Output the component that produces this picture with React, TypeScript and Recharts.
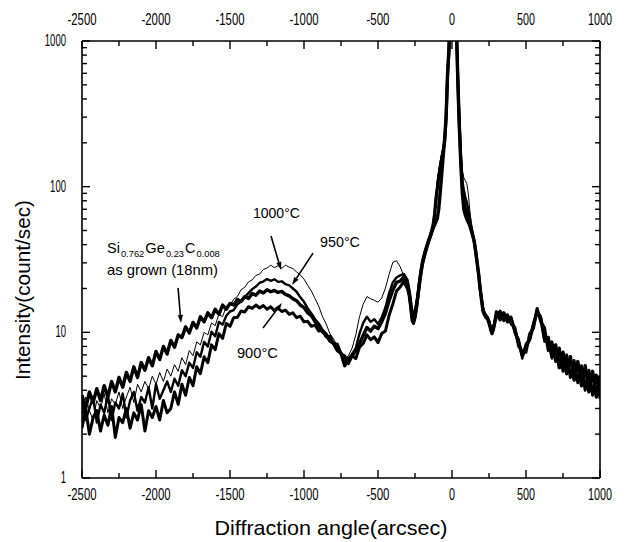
import React from "react";
import { LineChart, Line, XAxis, YAxis, ReferenceDot, ReferenceLine } from "recharts";

// Diffraction angle (arcsec)
const ANGLE = [
  -2500, -2475, -2450, -2425, -2400, -2375, -2350, -2325, -2300, -2275, -2250, -2225, -2200, -2175, -2150, -2125,
  -2100, -2075, -2050, -2025, -2000, -1975, -1950, -1925, -1900, -1875, -1850, -1825, -1800, -1775, -1750, -1725,
  -1700, -1675, -1650, -1625, -1600, -1575, -1550, -1525, -1500, -1475, -1450, -1425, -1400, -1375, -1350, -1325,
  -1300, -1275, -1250, -1225, -1200, -1175, -1150, -1125, -1100, -1075, -1050, -1025, -1000, -975, -950, -925,
  -900, -875, -850, -825, -800, -775, -750, -725, -700, -675, -650, -625, -600, -575, -550, -525, -500, -475,
  -450, -425, -400, -375, -350, -325, -300,
  -290, -280, -270, -260, -250, -240, -230, -220, -210, -200, -190, -180, -170, -160, -150, -140, -130, -120,
  -110, -100, -90, -80, -70, -60, -50, -40, -30, -20, -10, 0, 10, 20, 30, 40, 50, 60, 70, 80, 90, 100, 110, 120,
  130, 140, 150, 160, 170, 180, 190, 200, 210, 220, 230, 240, 250, 260, 270, 280, 290,
  300, 325, 350, 375, 400, 425, 450, 475, 500, 525, 550, 575, 600, 625, 650, 675, 700, 725, 750, 775, 800, 825,
  850, 875, 900, 925, 950, 975, 1000,
];

// Intensity (count/sec), as grown (18nm)
const AS_GROWN = [
  3.7, 3.0, 3.9, 3.3, 4.1, 3.4, 4.3, 3.6, 4.6, 3.9, 4.9, 4.2, 5.3, 4.6, 5.8, 4.9, 6.2, 5.5, 6.7, 5.9,
  7.4, 6.5, 8.0, 7.1, 8.8, 7.9, 9.6, 9.2, 10.9, 9.9, 11.7, 10.7, 12.8, 11.8, 13.6, 12.6, 14.4, 13.3, 15.4, 14.4,
  15.8, 15.4, 16.8, 16.3, 17.6, 17.1, 18.5, 18.0, 19.2, 18.6, 19.6, 19.0, 19.4, 18.8, 19.1, 18.2, 17.8, 17.0, 16.5, 15.4,
  14.8, 13.6, 13.0, 11.8, 11.2, 10.1, 9.6, 8.7, 8.4, 7.5, 7.2, 5.9, 6.6, 6.9, 7.5, 8.4, 9.5, 10.8, 10.2, 11.0,
  10.6, 11.8, 13.5, 16.5, 19.5, 22.0, 22.5, 24.0, 21.0,
  19, 16, 13, 12, 13, 15, 18, 22, 26, 30, 33, 36, 39, 42, 45, 48, 51, 54, 57, 60,
  70, 90, 120, 160, 210, 300, 600, 900, 2500, 8000, 6000, 2500, 1200, 500, 250, 140, 90, 70, 64, 60,
  57, 54, 50, 46, 42, 36, 30, 25, 20, 16.5, 14, 13.2, 12.6, 12.4, 11.6, 10.6, 9.8, 10.5, 11.8,
  13.8, 12.2, 13.6, 11.8, 12.4, 10.2, 8.6, 6.9, 8.0, 9.0, 11.2, 14.0, 12.4, 9.0, 9.2, 6.8, 8.2, 5.7, 7.3, 5.2,
  6.8, 4.7, 6.3, 4.3, 5.9, 3.9, 5.4, 3.6, 5.0,
];

// Intensity (count/sec), annealed 900°C
const ANNEAL_900 = [
  2.2, 3.0, 2.0, 2.6, 2.9, 2.1, 2.7, 2.3, 3.1, 1.9, 2.6, 2.4, 3.0, 2.2, 2.8, 2.5, 3.2, 2.1, 2.9, 2.6,
  3.1, 2.5, 3.4, 2.8, 3.0, 3.9, 3.2, 4.4, 3.7, 4.9, 4.3, 5.8, 5.2, 6.8, 6.2, 8.2, 7.6, 9.8, 9.1, 11.5,
  11.0, 12.6, 12.7, 14.0, 13.8, 15.0, 14.6, 15.4, 14.7, 15.3, 14.4, 15.0, 14.1, 14.7, 13.9, 14.2, 13.3, 13.6, 12.6, 12.9,
  11.8, 11.9, 11.0, 11.2, 10.2, 10.3, 9.3, 9.4, 8.3, 8.3, 7.1, 6.9, 6.1, 6.9, 6.6, 7.9, 8.4, 9.6, 8.9, 9.3,
  8.5, 9.8, 10.2, 13.1, 15.6, 19.2, 20.5, 22.4, 19.8,
  18, 15, 12, 11.5, 12.5, 14.5, 17.5, 21, 25, 29, 32, 35, 38, 41, 44, 47, 52, 60, 75, 95,
  115, 135, 155, 175, 200, 290, 580, 850, 2400, 8000, 6000, 2500, 1200, 520, 260, 150, 100, 80, 72, 66,
  61, 57, 52, 47, 42, 36, 30, 25, 20, 16.8, 14.2, 13.4, 12.9, 12.6, 11.8, 10.8, 10, 10.6, 12,
  12.6, 14.0, 12.0, 13.2, 11.4, 10.8, 8.0, 7.4, 7.3, 9.8, 10.6, 14.6, 11.8, 10.8, 7.5, 8.6, 6.3, 7.8, 5.4, 7.0,
  4.9, 6.4, 4.5, 5.9, 4.0, 5.5, 3.7, 5.1, 3.5,
];

// Intensity (count/sec), annealed 950°C
const ANNEAL_950 = [
  3.4, 2.5, 3.0, 3.6, 2.4, 3.2, 2.8, 3.7, 2.5, 3.3, 3.0, 3.8, 2.6, 3.4, 3.9, 2.9, 3.6, 3.3, 4.2, 3.0,
  4.4, 3.5, 4.0, 4.6, 3.9, 4.8, 4.3, 5.5, 5.0, 6.2, 5.7, 7.3, 6.8, 8.6, 8.0, 10.1, 9.4, 11.8, 11.3, 13.0,
  13.9, 14.2, 15.6, 16.3, 17.5, 18.6, 19.8, 20.6, 21.9, 22.3, 23.2, 22.6, 23.1, 22.2, 22.4, 21.4, 21.0, 20.0, 19.0, 17.4,
  16.2, 14.6, 13.5, 12.3, 11.5, 10.4, 9.8, 9.0, 8.5, 7.7, 7.2, 6.3, 6.5, 7.1, 7.8, 9.8, 11.6, 12.8, 11.8, 12.3,
  11.4, 12.6, 14.8, 18.6, 22.0, 23.8, 24.6, 25.2, 22.8,
  20, 17, 14, 13, 14, 16, 19, 23, 27, 31, 34, 37, 40, 43, 46, 50, 55, 65, 85, 100,
  120, 140, 160, 180, 210, 300, 600, 900, 2500, 8000, 6000, 2500, 1200, 550, 280, 160, 110, 95, 85, 78,
  70, 62, 54, 47, 42, 36, 30, 25, 20, 17, 14.5, 13.5, 13, 12.8, 12, 11, 10.2, 10.8, 12,
  13.4, 12.8, 12.9, 12.6, 12.8, 9.8, 9.0, 6.6, 8.4, 8.8, 11.6, 13.8, 12.9, 8.6, 9.3, 6.6, 8.0, 5.9, 7.2, 5.2,
  6.6, 4.8, 6.1, 4.4, 5.7, 4.1, 5.3, 3.8, 4.8,
];

// Intensity (count/sec), annealed 1000°C
const ANNEAL_1000 = [
  2.7, 3.6, 2.9, 2.5, 3.4, 3.0, 3.8, 2.8, 3.5, 3.2, 3.9, 3.0, 3.6, 4.2, 3.3, 4.4, 3.9, 4.6, 4.1, 5.0,
  4.4, 5.3, 4.6, 5.6, 5.0, 6.0, 5.4, 6.7, 6.0, 7.5, 6.9, 8.6, 8.2, 10.0, 9.6, 11.6, 11.1, 13.3, 12.8, 15.1,
  15.2, 16.9, 17.6, 19.6, 20.4, 22.2, 22.9, 24.6, 25.1, 27.0, 27.6, 28.9, 27.8, 28.7, 27.5, 28.9, 28.0, 27.4, 26.0, 24.8,
  23.2, 21.0, 19.2, 17.0, 15.1, 12.8, 11.4, 9.8, 9.0, 8.0, 7.4, 6.6, 6.9, 7.8, 9.6, 12.8, 15.6, 17.6, 17.0, 16.6,
  16.1, 17.2, 20.1, 25.0, 30.2, 31.0, 28.2, 24.2, 20.6,
  18, 16, 14.5, 14, 15, 17, 20, 24, 28, 32, 35, 38, 40, 42, 45, 48, 52, 58, 80, 110,
  130, 150, 170, 190, 220, 320, 600, 900, 2500, 8000, 6000, 2500, 1200, 600, 300, 180, 130, 115, 110, 105,
  90, 70, 55, 47, 42, 37, 31, 26, 21, 17.5, 15, 14, 13.5, 13, 12.5, 11.5, 10.5, 11, 12,
  12.9, 13.6, 12.5, 12.9, 11.9, 10.4, 8.3, 7.0, 7.9, 9.4, 10.9, 14.2, 12.6, 10.0, 8.0, 8.0, 6.7, 7.0, 6.0, 6.3,
  5.4, 5.9, 4.9, 5.5, 4.5, 5.1, 4.2, 4.8, 4.0,
];

const X_TICKS = [-2500, -2250, -2000, -1750, -1500, -1250, -1000, -750, -500, -250, 0, 250, 500, 750, 1000];
const Y_TICKS = [
  1, 2, 3, 4, 5, 6, 7, 8, 9, 10, 20, 30, 40, 50, 60, 70, 80, 90, 100, 200, 300, 400, 500, 600, 700, 800, 900, 1000,
];
const Y_MAJOR = [1, 10, 100, 1000];

// Sample formula: pieces of Si0.762Ge0.23C0.008 (main symbol / subscript)
const FORMULA = [
  { t: "Si", sub: false, w: 13.3 },
  { t: "0.762", sub: true, w: 23.8 },
  { t: "Ge", sub: false, w: 20 },
  { t: "0.23", sub: true, w: 18.5 },
  { t: "C", sub: false, w: 10.8 },
  { t: "0.008", sub: true, w: 23.8 },
];

const rows = ANGLE.map((x, i) => ({
  x,
  ag: AS_GROWN[i],
  a900: ANNEAL_900[i],
  a950: ANNEAL_950[i],
  a1000: ANNEAL_1000[i],
}));

const TICK_FONT = "'Liberation Sans', Arial, sans-serif";
const TEXT_FONT = "'Liberation Sans', Arial, sans-serif";
const INK = "#000";

const xLabelLen = (s: string) => s.replace("-", "").length * 6 + (s.startsWith("-") ? 5 : 0);
const yLabelLen = (s: string) => s.length * 5.3;

const BottomTick = (props: any) => {
  const { x, y, payload } = props;
  const v = payload.value;
  const major = v % 500 === 0;
  const s = String(v);
  return (
    <g>
      <line x1={x} x2={x} y1={y} y2={y - (major ? 8 : 5)} stroke={INK} strokeWidth={1.4} />
      {major && (
        <text x={x} y={y + 22} textAnchor="middle" fontFamily={TICK_FONT} fontSize={16} fill={INK}
          textLength={xLabelLen(s)} lengthAdjust="spacingAndGlyphs">{s}</text>
      )}
    </g>
  );
};

const TopTick = (props: any) => {
  const { x, y, payload } = props;
  const v = payload.value;
  const major = v % 500 === 0;
  const s = String(v);
  return (
    <g>
      <line x1={x} x2={x} y1={y} y2={y + (major ? 8 : 5)} stroke={INK} strokeWidth={1.4} />
      {major && (
        <text x={x} y={y - 16} textAnchor="middle" fontFamily={TICK_FONT} fontSize={16} fill={INK}
          textLength={xLabelLen(s)} lengthAdjust="spacingAndGlyphs">{s}</text>
      )}
    </g>
  );
};

const LeftTick = (props: any) => {
  const { x, y, payload } = props;
  const v = payload.value;
  const major = Y_MAJOR.includes(v);
  const s = String(v);
  return (
    <g>
      <line x1={x} x2={x + (major ? 8 : 5)} y1={y} y2={y} stroke={INK} strokeWidth={1.4} />
      {major && (
        <text x={x - 16} y={y + 5} textAnchor="end" fontFamily={TICK_FONT} fontSize={16} fill={INK}
          textLength={yLabelLen(s)} lengthAdjust="spacingAndGlyphs">{s}</text>
      )}
    </g>
  );
};

const RightTick = (props: any) => {
  const { x, y, payload } = props;
  const major = Y_MAJOR.includes(payload.value);
  return <line x1={x} x2={x - (major ? 8 : 5)} y1={y} y2={y} stroke={INK} strokeWidth={1.4} />;
};

const arrowShape = (p: any) => {
  const { x1, y1, x2, y2 } = p;
  const dx = x2 - x1;
  const dy = y2 - y1;
  const L = Math.hypot(dx, dy) || 1;
  const ux = dx / L;
  const uy = dy / L;
  const hl = 8;
  const hw = 2.6;
  const bx = x2 - ux * hl;
  const by = y2 - uy * hl;
  return (
    <g>
      <line x1={x1} y1={y1} x2={bx} y2={by} stroke={INK} strokeWidth={1.6} />
      <polygon points={`${x2},${y2} ${bx - uy * hw},${by + ux * hw} ${bx + uy * hw},${by - ux * hw}`} fill={INK} />
    </g>
  );
};

const textShape = (label: string, len: number, size: number) => (p: any) => (
  <text x={p.cx} y={p.cy} fontFamily={TEXT_FONT} fontSize={size} fill={INK} textLength={len}
    lengthAdjust="spacingAndGlyphs">{label}</text>
);

const formulaShape = (p: any) => {
  let cursor = p.cx;
  return (
    <g>
      {FORMULA.map((part) => {
        const px = cursor;
        cursor += part.w + 0.6;
        return (
          <text key={part.t} x={px} y={p.cy + (part.sub ? 4 : 0)} fontFamily={TEXT_FONT}
            fontSize={part.sub ? 9.5 : 15} fill={INK} textLength={part.w - 0.4} lengthAdjust="spacingAndGlyphs">
            {part.t}
          </text>
        );
      })}
    </g>
  );
};

export default function App() {
  return (
    <LineChart width={620} height={534} data={rows} margin={{ top: 3, right: 18, bottom: 34, left: 14 }}>
      <XAxis xAxisId="b" type="number" dataKey="x" domain={[-2500, 1000]} ticks={X_TICKS} interval={0}
        allowDataOverflow tickSize={0} tickMargin={0} tick={BottomTick} height={30}
        axisLine={{ stroke: INK, strokeWidth: 1.6 }} tickLine={false} />
      <XAxis xAxisId="t" orientation="top" type="number" dataKey="x" domain={[-2500, 1000]} ticks={X_TICKS}
        interval={0} allowDataOverflow tickSize={0} tickMargin={0} tick={TopTick} height={30}
        axisLine={{ stroke: INK, strokeWidth: 1.6 }} tickLine={false} />
      <YAxis yAxisId="l" type="number" scale="log" domain={[1, 1000]} ticks={Y_TICKS} interval={0}
        allowDataOverflow tickSize={0} tickMargin={0} tick={LeftTick} width={60}
        axisLine={{ stroke: INK, strokeWidth: 1.6 }} tickLine={false} />
      <YAxis yAxisId="r" orientation="right" type="number" scale="log" domain={[1, 1000]} ticks={Y_TICKS}
        interval={0} allowDataOverflow tickSize={0} tickMargin={0} tick={RightTick} width={10}
        axisLine={{ stroke: INK, strokeWidth: 1.6 }} tickLine={false} />

      <Line xAxisId="b" yAxisId="l" type="linear" dataKey="ag" stroke={INK} strokeWidth={3.4} dot={false}
        isAnimationActive={false} strokeLinejoin="round" />
      <Line xAxisId="b" yAxisId="l" type="linear" dataKey="a900" stroke={INK} strokeWidth={3} dot={false}
        isAnimationActive={false} strokeLinejoin="round" />
      <Line xAxisId="b" yAxisId="l" type="linear" dataKey="a950" stroke={INK} strokeWidth={2.4} dot={false}
        isAnimationActive={false} strokeLinejoin="round" />
      <Line xAxisId="b" yAxisId="l" type="linear" dataKey="a1000" stroke={INK} strokeWidth={1} dot={false}
        isAnimationActive={false} strokeLinejoin="round" />

      <ReferenceLine xAxisId="b" yAxisId="l" segment={[{ x: -1851, y: 20.2 }, { x: -1831, y: 11.6 }]} shape={arrowShape} />
      <ReferenceLine xAxisId="b" yAxisId="l" segment={[{ x: -1223, y: 45.8 }, { x: -1155, y: 26.8 }]} shape={arrowShape} />
      <ReferenceLine xAxisId="b" yAxisId="l" segment={[{ x: -939, y: 35.0 }, { x: -1081, y: 21.1 }]} shape={arrowShape} />
      <ReferenceLine xAxisId="b" yAxisId="l" segment={[{ x: -1277, y: 10.7 }, { x: -1149, y: 15.9 }]} shape={arrowShape} />

      <ReferenceDot xAxisId="b" yAxisId="l" x={-1345} y={60.9} r={0} shape={textShape("1000°C", 47, 14)} />
      <ReferenceDot xAxisId="b" yAxisId="l" x={-892} y={38.5} r={0} shape={textShape("950°C", 40, 14)} />
      <ReferenceDot xAxisId="b" yAxisId="l" x={-1453} y={6.66} r={0} shape={textShape("900°C", 41, 14)} />
      <ReferenceDot xAxisId="b" yAxisId="l" x={-2331} y={35.0} r={0} shape={formulaShape} />
      <ReferenceDot xAxisId="b" yAxisId="l" x={-2331} y={24.75} r={0} shape={textShape("as grown (18nm)", 111, 15)} />

      <text x={323} y={527} textAnchor="middle" fontFamily={TEXT_FONT} fontSize={21} fill={INK}
        textLength={233} lengthAdjust="spacingAndGlyphs">Diffraction angle(arcsec)</text>
      <text x={22} y={282} transform="rotate(-90 22 282)" textAnchor="middle" fontFamily={TEXT_FONT} fontSize={21}
        fill={INK} textLength={180} lengthAdjust="spacingAndGlyphs">Intensity(count/sec)</text>
    </LineChart>
  );
}
